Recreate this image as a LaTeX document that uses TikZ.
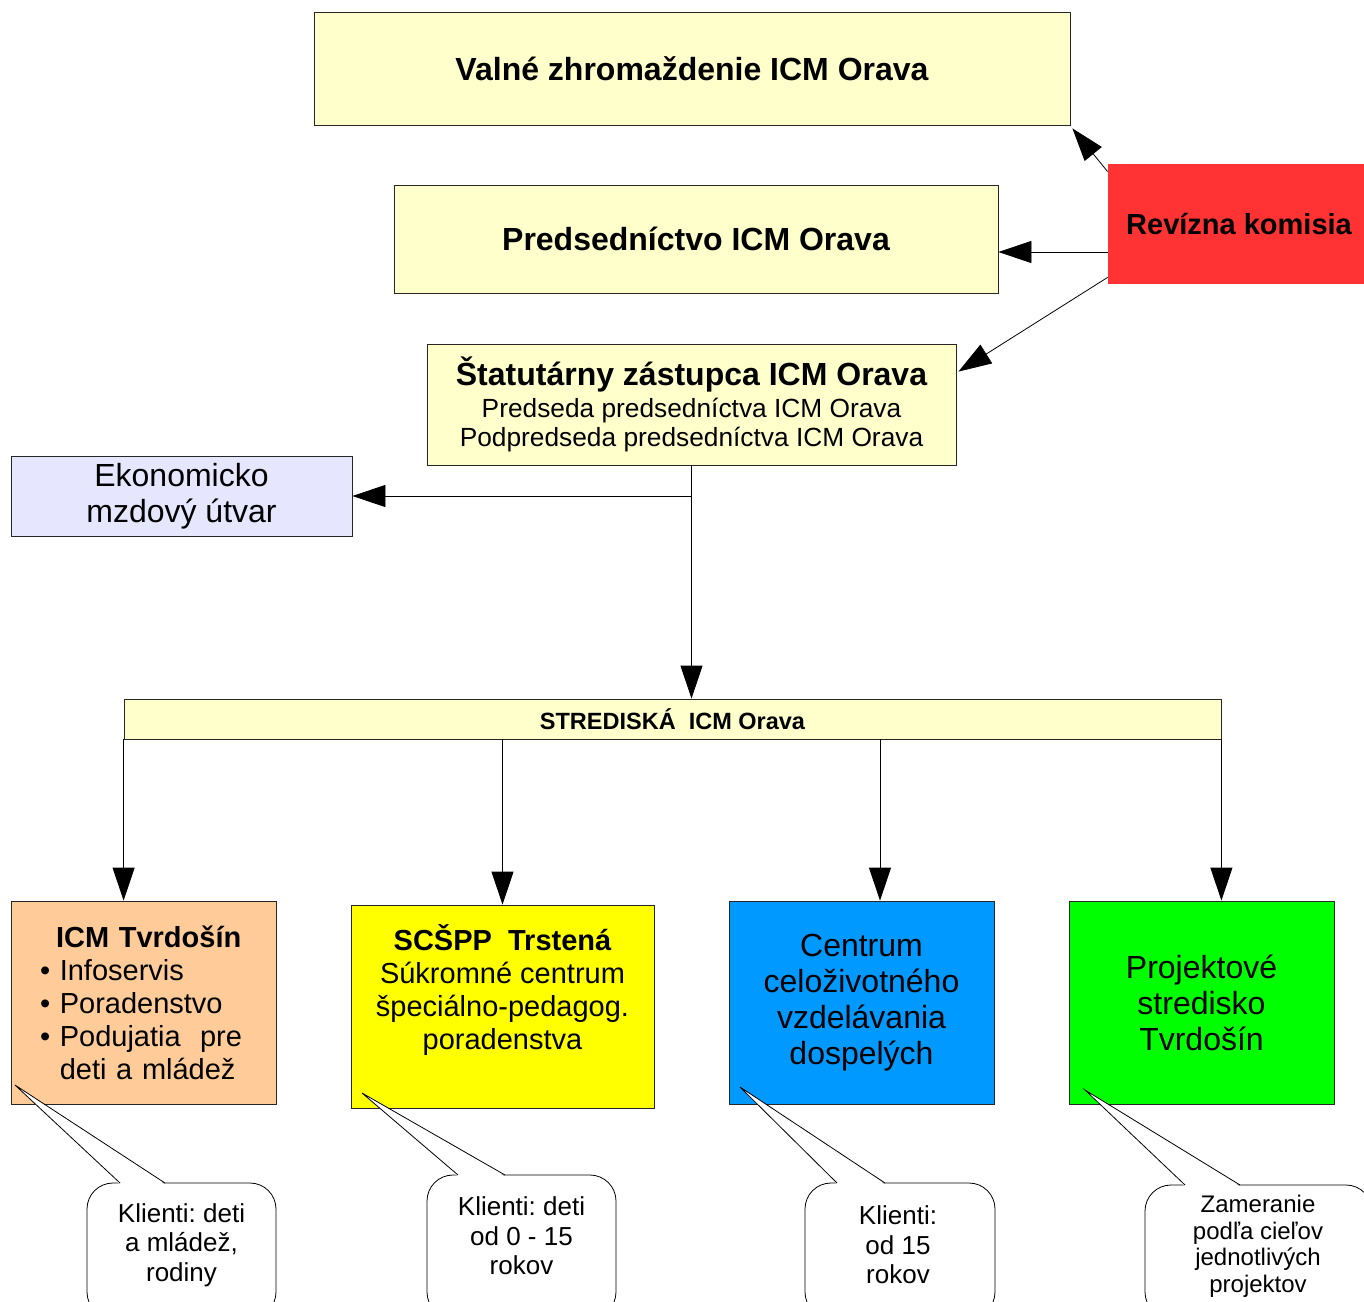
\documentclass[tikz,border=0pt]{standalone}
\usepackage{fontspec}
\setmainfont{Liberation Sans}
\usetikzlibrary{arrows.meta}
\frenchspacing

\definecolor{paleyellow}{HTML}{FFFFCC}
\definecolor{revred}{HTML}{FF3333}
\definecolor{lavender}{HTML}{E6E6FF}
\definecolor{peach}{HTML}{FFCC99}
\definecolor{lemon}{HTML}{FFFF00}
\definecolor{skyblue}{HTML}{0099FF}
\definecolor{brightgreen}{HTML}{00FF00}

\tikzset{
  orgbox/.style={draw=black!85, line width=0.8pt, align=center, inner sep=0pt},
  arr/.style={-{Triangle[length=33pt,width=22pt]}, line width=0.8pt},
  bubble/.style={draw=black, line width=0.8pt, fill=white, rounded corners=26pt},
  bubtext/.style={align=center, inner sep=0pt, font=\fontsize{26}{29.5}\selectfont},
}

\begin{document}
\begin{tikzpicture}[x=1pt,y=-1pt]
\useasboundingbox (0,0) rectangle (1364,1301);
\clip (0,0) rectangle (1364,1301);

 \node[orgbox, fill=paleyellow, minimum width=756pt, minimum height=113pt, font=\bfseries\fontsize{32}{36}\selectfont] (valne) at (692,68.5) {Valné zhromaždenie ICM Orava};
 \node[orgbox, fill=paleyellow, minimum width=604pt, minimum height=108pt, font=\bfseries\fontsize{32}{36}\selectfont] (pred) at (696,239) {Predsedníctvo ICM Orava};
 \node[orgbox, draw=none, fill=revred, minimum width=256pt, minimum height=120pt, font=\bfseries\fontsize{29}{33}\selectfont] (rev) at (1236,224) {\hspace*{6pt}Revízna komisia};
 \node[orgbox, fill=paleyellow, minimum width=529pt, minimum height=121pt, font=\fontsize{26.3}{29}\selectfont] (stat) at (691.5,404.5)
   {{\bfseries\fontsize{32}{36}\selectfont Štatutárny zástupca ICM Orava}\\[3pt]Predseda predsedníctva ICM Orava\\Podpredseda predsedníctva ICM Orava};
 \node[orgbox, fill=lavender, minimum width=341pt, minimum height=80pt, font=\fontsize{32}{36}\selectfont] (ekon) at (181.5,496) {Ekonomicko\\mzdový útvar};
 \node[orgbox, fill=paleyellow, minimum width=1097pt, minimum height=40pt, font=\bfseries\fontsize{23.5}{27}\selectfont] (stred) at (672.5,719) {STREDISKÁ\ \ ICM Orava};

 \node[orgbox, fill=peach, minimum width=265pt, minimum height=203pt, align=left, text width=207pt, font=\fontsize{29}{33}\selectfont] (tvr) at (143.5,1002.5)
   {\hspace*{16pt}\textbf{ICM Tvrdošín}\\• Infoservis\\• Poradenstvo\\• Podujatia\ \ pre\\\hphantom{• }deti a mládež};
 \node[orgbox, fill=lemon, minimum width=303pt, minimum height=203pt, font=\fontsize{29}{33}\selectfont] (scs) at (502.5,1006.5)
   {\textbf{SCŠPP\ \ Trstená}\\Súkromné centrum\\špeciálno-pedagog.\\poradenstva\\[6pt]~};
 \node[orgbox, fill=skyblue, minimum width=265pt, minimum height=203pt, font=\fontsize{32}{36}\selectfont] (cent) at (861.5,1002.5)
   {Centrum\\celoživotného\\vzdelávania\\dospelých};
 \node[orgbox, fill=brightgreen, minimum width=265pt, minimum height=203pt, font=\fontsize{32}{36}\selectfont] (proj) at (1201.5,1002.5)
   {Projektové\\stredisko\\Tvrdošín};

 \draw[arr] ([yshift=-8pt]rev.north west) -- ([xshift=2pt,yshift=-3pt]valne.south east);
 \draw[arr] ([yshift=-28pt]rev.west) -- ([yshift=-28pt]rev.west -| pred.east);
 \draw[arr] ([yshift=7pt]rev.south west) -- ([xshift=2pt,yshift=-28pt]stat.north east);

 \coordinate (split) at (stat.south |- ekon.east);
 \draw[arr] (stat.south) -- (stat.south |- stred.north);
 \draw[arr] (split) -- (ekon.east);

 \coordinate (c3) at ([xshift=18.5pt]cent.north);
 \draw[arr] (stred.south west) -- (stred.south west |- tvr.north);
 \draw[arr] (stred.south -| scs.north) -- (scs.north);
 \draw[arr] (stred.south -| c3) -- (c3);
 \draw[arr] (stred.south east) -- (stred.south east |- proj.north);

 % bubbles below the centres
 \foreach \l/\r/\t/\a/\b/\px/\py in {87/276/1183/120/165/15/1085, 427/616/1175/458/505/362/1093,
     805/995/1183/837/885/740/1087, 1145/1372/1185/1185/1240/1085/1090}{
   \draw[bubble] (\l,\t) rectangle (\r,1318);
   \fill[white] (\a,\t+1.5) -- (\px,\py) -- (\b,\t+1.5) -- cycle;
   \draw[line width=0.8pt] (\a,\t) -- (\px,\py) -- (\b,\t);
 }

 \node[bubtext] (cl1) at (181.5,1245) {Klienti: deti\\a mládež,\\rodiny};
 \node[bubtext] (cl2) at (521.5,1236) {Klienti: deti\\od 0 - 15\\rokov};
 \node[bubtext] (cl3) at (898,1245) {Klienti:\\od 15\\rokov};
 \node[bubtext, font=\fontsize{24}{26.5}\selectfont] (cl4) at (1258,1246.5) {Zameranie\\podľa cieľov\\jednotlivých\\projektov};

\end{tikzpicture}
\end{document}
